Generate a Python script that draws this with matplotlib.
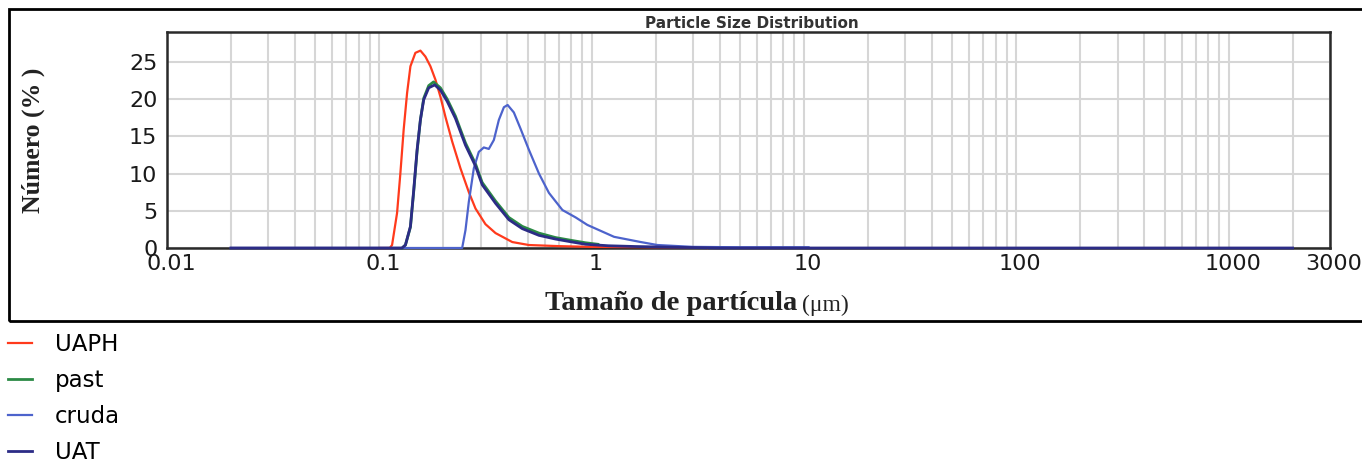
import numpy as np
import matplotlib
matplotlib.use("Agg")
import matplotlib.pyplot as plt
from matplotlib.patches import Rectangle
from matplotlib.ticker import LogLocator, NullFormatter, FixedLocator
from matplotlib.transforms import ScaledTranslation

# ---- data (size in um, number %) ----
uaph_x = [0.10, 0.112, 0.1148, 0.1212, 0.1256, 0.1302, 0.1351, 0.1401, 0.1478,
          0.1561, 0.1648, 0.1740, 0.1837, 0.1940, 0.2048, 0.2203, 0.2410,
          0.2639, 0.2837, 0.316, 0.3526, 0.4227, 0.506, 0.70, 1.0, 2.0, 3.4,
          3.5]
uaph_y = [0.0, 0.0, 0.4, 4.7, 10.0, 15.9, 20.8, 24.4, 26.2,
          26.5, 25.7, 24.4, 22.6, 20.3, 17.6, 14.3, 10.7,
          7.5, 5.3, 3.2, 2.0, 0.8, 0.4, 0.25, 0.15, 0.1, 0.1,
          0.0]

past_x = [0.128, 0.1327, 0.1401, 0.1452, 0.1506, 0.1561, 0.1618, 0.1708,
          0.1800, 0.1940, 0.2086, 0.2283, 0.2545, 0.2837, 0.305, 0.3526,
          0.4074, 0.471, 0.5644, 0.676, 0.811, 0.937, 1.07]
past_y = [0.0, 0.4, 2.8, 7.6, 13.0, 17.2, 20.1, 21.8,
          22.3, 21.5, 20.0, 17.7, 14.1, 11.3, 8.8, 6.3,
          4.1, 2.9, 2.0, 1.4, 1.0, 0.7, 0.5]

cruda_x = [0.02, 0.2455, 0.2545, 0.2639, 0.2786, 0.294, 0.3105, 0.3278,
           0.3462, 0.3655, 0.386, 0.402, 0.430, 0.4626, 0.506, 0.5644,
           0.629, 0.728, 0.841, 0.954, 1.275, 1.703, 2.04, 3.0, 5.0, 10.5]
cruda_y = [0.0, 0.0, 2.4, 6.2, 10.7, 12.9, 13.5, 13.3,
           14.5, 17.2, 18.9, 19.2, 18.2, 16.0, 13.2, 10.0,
           7.4, 5.1, 4.1, 3.1, 1.5, 0.8, 0.4, 0.15, 0.1, 0.1]

uat_x = [0.02, 0.128, 0.1327, 0.1401, 0.1452, 0.1506, 0.1561, 0.1618,
         0.1708, 0.1823, 0.1940, 0.2086, 0.2283, 0.2545, 0.2837, 0.305,
         0.3526, 0.4074, 0.471, 0.5644, 0.676, 0.811, 0.937, 1.2, 1.6,
         2.5, 4.0, 2000]
uat_y = [0.0, 0.0, 0.4, 2.9, 7.8, 13.2, 17.2, 19.9,
         21.5, 21.9, 21.2, 19.7, 17.4, 13.8, 11.0, 8.5,
         6.0, 3.8, 2.6, 1.7, 1.2, 0.8, 0.5, 0.3, 0.2,
         0.1, 0.0, 0.0]

series = [
    ("UAPH", uaph_x, uaph_y, "#ff3a1c", 1.6),
    ("past", past_x, past_y, "#2b8a45", 2.0),
    ("cruda", cruda_x, cruda_y, "#4d63cc", 1.6),
    ("UAT", uat_x, uat_y, "#2c2c86", 2.0),
]

x_ticks = [0.01, 0.1, 1, 10, 100, 1000, 3000]
x_ticklabels = ["0.01", "0.1", "1", "10", "100", "1000", "3000"]
y_ticks = [0, 5, 10, 15, 20, 25]

W, H = 1362, 463
fig = plt.figure(figsize=(W / 100, H / 100), dpi=100)
ax = fig.add_axes([167 / W, 1 - 248 / H, (1330 - 167) / W, (248 - 32) / H])

for name, xs, ys, c, lw in series:
    ax.plot(xs, ys, color=c, lw=lw, label=name, clip_on=False, zorder=3,
            solid_joinstyle="round")

ax.set_xscale("log")
ax.set_xlim(0.01, 3000)
ax.set_ylim(0, 29)
ax.xaxis.set_major_locator(FixedLocator(x_ticks))
ax.set_xticklabels(x_ticklabels)
ax.xaxis.set_minor_locator(LogLocator(base=10, subs=range(2, 10)))
ax.xaxis.set_minor_formatter(NullFormatter())
ax.set_yticks(y_ticks)
ax.grid(True, which="both", axis="x", color="#d6d6d6", lw=1.5, zorder=0)
ax.grid(True, which="major", axis="y", color="#d6d6d6", lw=1.5, zorder=0)
ax.set_axisbelow(True)
ax.tick_params(which="both", length=0)
ax.tick_params(axis="x", pad=4)
ax.tick_params(axis="y", pad=7)
for lab in ax.get_xticklabels() + ax.get_yticklabels():
    lab.set_fontfamily("DejaVu Sans")
    lab.set_fontsize(16)
    lab.set_color("#1a1a1a")
for lab in ax.get_xticklabels():
    lab.set_transform(lab.get_transform() + ScaledTranslation(0.04, 0, fig.dpi_scale_trans))
for sp in ax.spines.values():
    sp.set_color("#2a2a2a")
    sp.set_linewidth(1.8)

# outer frame (right edge runs off the picture)
fig.patches.append(Rectangle((9 / W, 1 - 321 / H), 1400 / W, (321 - 9) / H,
                             transform=fig.transFigure, fill=False,
                             edgecolor="black", lw=2.0, clip_on=False))

fig.text(752 / W, 1 - 23 / H, "Particle Size Distribution", ha="center",
         va="center", fontsize=11, fontweight="bold", family="DejaVu Sans",
         color="#333333")

fig.text(33 / W, 1 - 140 / H, "Número (% )", rotation=90, ha="center",
         va="center", fontsize=18.5, fontweight="bold",
         family="Liberation Serif", color="#222222")

t1 = fig.text(545 / W, 1 - 304 / H, "Tamaño de partícula", ha="left",
              va="center", fontsize=20.5, fontweight="bold",
              family="Liberation Serif", color="#222222")
fig.canvas.draw()
bb = t1.get_window_extent()
fig.text((bb.x1 + 5) / W, 1 - 305 / H, "(μm)", ha="left", va="center",
         fontsize=17, family="Liberation Serif", color="#222222")

handles, labels = ax.get_legend_handles_labels()
fig.legend(handles, labels, loc="upper left", bbox_to_anchor=(8 / W, 1 - 333 / H),
           frameon=False, prop={"family": "DejaVu Sans", "size": 16.5},
           handlelength=1.05, handletextpad=1.0, labelspacing=0.57,
           borderpad=0, borderaxespad=0)

fig.savefig("out.png", dpi=100)
